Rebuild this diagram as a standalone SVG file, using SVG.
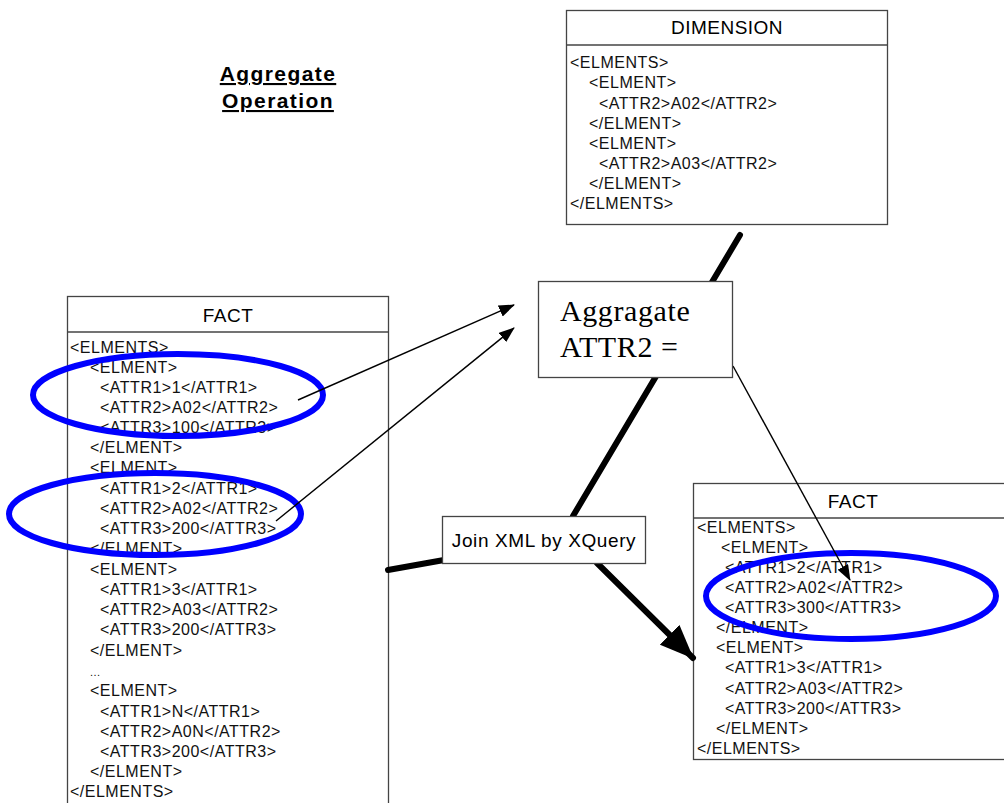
<svg xmlns="http://www.w3.org/2000/svg" width="1004" height="803" viewBox="0 0 1004 803">
<defs>
<style>
.box{fill:#fff;stroke:#444;stroke-width:1.3}
.hdr{font-family:"Liberation Sans",Arial,sans-serif;font-size:19px;text-anchor:middle;fill:#000;letter-spacing:0.5px}
.xml{font-family:"Liberation Sans",Arial,sans-serif;font-size:16px;fill:#111;letter-spacing:0.5px}
.ell{fill:none;stroke:#0000ff;stroke-width:6}
.thin{fill:none;stroke:#000;stroke-width:1.4}
.thick{fill:none;stroke:#000;stroke-width:6;stroke-linecap:round}
</style>
<marker id="ah" markerUnits="userSpaceOnUse" markerWidth="16" markerHeight="12" refX="15" refY="6" orient="auto">
<path d="M0,0 L16,6 L0,12 Z" fill="#000"/>
</marker>
<marker id="ahbig" markerUnits="userSpaceOnUse" markerWidth="34" markerHeight="28" refX="33" refY="14" orient="auto">
<path d="M0,0 L34,14 L0,28 Z" fill="#000"/>
</marker>
</defs>
<rect width="1004" height="803" fill="#fff"/>

<g id="title">
<text x="278" y="81" text-anchor="middle" font-family="'Liberation Sans',Arial,sans-serif" font-size="21" font-weight="bold" letter-spacing="1.4" text-decoration="underline">Aggregate</text>
<text x="278" y="108" text-anchor="middle" font-family="'Liberation Sans',Arial,sans-serif" font-size="21" font-weight="bold" letter-spacing="1.4" text-decoration="underline">Operation</text>
</g>

<g id="dimension">
<rect class="box" x="566.5" y="10.5" width="321" height="214"/>
<line x1="566.5" y1="45" x2="887.5" y2="45" stroke="#444" stroke-width="1.3"/>
<text class="hdr" x="727" y="34">DIMENSION</text>
<g class="xml">
<text x="570" y="68">&lt;ELMENTS&gt;</text>
<text x="589" y="88">&lt;ELMENT&gt;</text>
<text x="599" y="109">&lt;ATTR2&gt;A02&lt;/ATTR2&gt;</text>
<text x="589" y="129">&lt;/ELMENT&gt;</text>
<text x="589" y="149">&lt;ELMENT&gt;</text>
<text x="599" y="169">&lt;ATTR2&gt;A03&lt;/ATTR2&gt;</text>
<text x="589" y="189">&lt;/ELMENT&gt;</text>
<text x="570" y="209">&lt;/ELMENTS&gt;</text>
</g>
</g>

<g id="fact-left">
<rect class="box" x="67.5" y="296.5" width="321" height="520"/>
<line x1="67.5" y1="332" x2="388.5" y2="332" stroke="#444" stroke-width="1.3"/>
<text class="hdr" x="228" y="322">FACT</text>
<g class="xml">
<text x="70" y="353">&lt;ELMENTS&gt;</text>
<text x="90" y="373">&lt;ELMENT&gt;</text>
<text x="100" y="393">&lt;ATTR1&gt;1&lt;/ATTR1&gt;</text>
<text x="100" y="413">&lt;ATTR2&gt;A02&lt;/ATTR2&gt;</text>
<text x="100" y="433">&lt;ATTR3&gt;100&lt;/ATTR3&gt;</text>
<text x="90" y="453">&lt;/ELMENT&gt;</text>
<text x="90" y="473">&lt;ELMENT&gt;</text>
<text x="100" y="494">&lt;ATTR1&gt;2&lt;/ATTR1&gt;</text>
<text x="100" y="514">&lt;ATTR2&gt;A02&lt;/ATTR2&gt;</text>
<text x="100" y="534">&lt;ATTR3&gt;200&lt;/ATTR3&gt;</text>
<text x="90" y="554">&lt;/ELMENT&gt;</text>
<text x="90" y="575">&lt;ELMENT&gt;</text>
<text x="100" y="595">&lt;ATTR1&gt;3&lt;/ATTR1&gt;</text>
<text x="100" y="615">&lt;ATTR2&gt;A03&lt;/ATTR2&gt;</text>
<text x="100" y="635">&lt;ATTR3&gt;200&lt;/ATTR3&gt;</text>
<text x="90" y="656">&lt;/ELMENT&gt;</text>
<text x="90" y="676" font-size="11">...</text>
<text x="90" y="696">&lt;ELMENT&gt;</text>
<text x="100" y="717">&lt;ATTR1&gt;N&lt;/ATTR1&gt;</text>
<text x="100" y="737">&lt;ATTR2&gt;A0N&lt;/ATTR2&gt;</text>
<text x="100" y="757">&lt;ATTR3&gt;200&lt;/ATTR3&gt;</text>
<text x="90" y="777">&lt;/ELMENT&gt;</text>
<text x="70" y="797">&lt;/ELMENTS&gt;</text>
</g>
</g>

<g id="fact-right">
<rect class="box" x="693.5" y="483.5" width="315" height="276"/>
<line x1="693.5" y1="518" x2="1004" y2="518" stroke="#444" stroke-width="1.3"/>
<text class="hdr" x="853" y="508">FACT</text>
<g class="xml">
<text x="697" y="533">&lt;ELMENTS&gt;</text>
<text x="721" y="553">&lt;ELMENT&gt;</text>
<text x="725" y="573">&lt;ATTR1&gt;2&lt;/ATTR1&gt;</text>
<text x="725" y="593">&lt;ATTR2&gt;A02&lt;/ATTR2&gt;</text>
<text x="725" y="613">&lt;ATTR3&gt;300&lt;/ATTR3&gt;</text>
<text x="716" y="633">&lt;/ELMENT&gt;</text>
<text x="716" y="653">&lt;ELMENT&gt;</text>
<text x="725" y="673">&lt;ATTR1&gt;3&lt;/ATTR1&gt;</text>
<text x="725" y="694">&lt;ATTR2&gt;A03&lt;/ATTR2&gt;</text>
<text x="725" y="714">&lt;ATTR3&gt;200&lt;/ATTR3&gt;</text>
<text x="716" y="734">&lt;/ELMENT&gt;</text>
<text x="697" y="754">&lt;/ELMENTS&gt;</text>
</g>
</g>

<g id="highlights">
<ellipse id="ellipse-1" class="ell" cx="178" cy="395" rx="145" ry="41"/>
<ellipse id="ellipse-2" class="ell" cx="155" cy="514" rx="146" ry="41"/>
<ellipse id="ellipse-3" class="ell" cx="851" cy="596" rx="145" ry="43"/>
</g>

<g id="connectors">
<line class="thin" x1="298" y1="400" x2="514" y2="305" marker-end="url(#ah)"/>
<line class="thin" x1="276" y1="521" x2="514" y2="328" marker-end="url(#ah)"/>
<line class="thin" x1="733" y1="366" x2="850" y2="580" marker-end="url(#ah)"/>
<line class="thick" x1="740" y1="235" x2="573" y2="516"/>
<line class="thick" x1="388" y1="570" x2="444" y2="560"/>
<line class="thick" x1="597" y1="563" x2="693" y2="658" marker-end="url(#ahbig)"/>
</g>

<g id="aggregate">
<rect class="box" x="538.5" y="281.5" width="194" height="96" stroke="#222" stroke-width="1.5"/>
<text x="560" y="321" font-family="'Liberation Serif','Times New Roman',serif" font-size="30" letter-spacing="0.6">Aggragate</text>
<text x="560" y="357" font-family="'Liberation Serif','Times New Roman',serif" font-size="30" letter-spacing="0.6">ATTR2 =</text>
</g>

<g id="join">
<rect class="box" x="442.5" y="516.5" width="203" height="47"/>
<text x="544" y="547" text-anchor="middle" font-family="'Liberation Sans',Arial,sans-serif" font-size="19" letter-spacing="0.6">Join XML by XQuery</text>
</g>
</svg>
